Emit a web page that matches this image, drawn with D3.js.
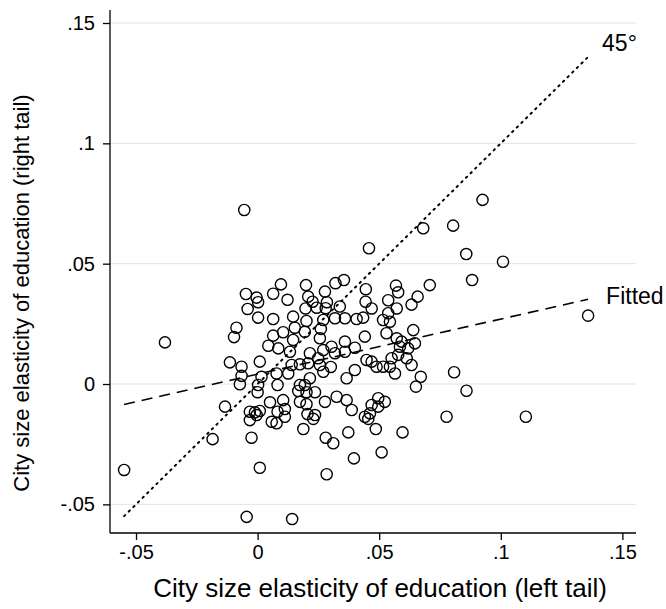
<!DOCTYPE html>
<html>
<head>
<meta charset="utf-8">
<script src="https://cdn.jsdelivr.net/npm/d3@7"></script>
<style>
  html, body { margin: 0; padding: 0; background: #fff; }
  svg { display: block; font-family: "Liberation Sans", Arial, Helvetica, sans-serif; }
</style>
</head>
<body>
<svg id="chart" width="666" height="609"></svg>
<script>
// City-level elasticities: left tail (x) vs right tail (y)
const leftTail = [
  -0.0055, 0.0458, 0.0681, 0.0925, 0.0804, 0.0858, 0.1009, 0.0708, 0.0882, -0.0048,
  -0.0004, 0.0002, 0.0096, 0.0064, 0.0123, 0.0199, 0.0208, 0.0226, 0.0277, 0.0285,
  0.0320, 0.0355, 0.0445, 0.0569, 0.0578, 0.0444, 0.0537, 0.0658, 0.0633, 0.0338,
  0.0469, 0.0572, -0.0041, 0.0197, 0.0002, 0.0064, -0.0087, -0.0097, 0.0146, 0.0243,
  0.0280, 0.0201, 0.0270, 0.0153, 0.0194, 0.0260, 0.0105, 0.0064, 0.0146, 0.0256,
  0.0044, 0.0085, 0.0133, 0.0215, 0.0270, 0.0304, 0.0249, 0.0208, 0.0174, 0.0140,
  0.0009, -0.0066, -0.0066, -0.0073, 0.0016, 0.0002, 0.0000, 0.0078, 0.0082, 0.0126,
  0.0174, 0.0194, 0.0201, 0.0236, 0.0167, 0.0215, 0.0270, 0.0301, 0.0256, 0.0277,
  0.0174, 0.0201, 0.0105, 0.0051, 0.0112, -0.0032, -0.0011, 0.0009, 0.0082, 0.0205,
  0.0236, 0.0318, 0.0359, 0.0407, 0.0434, 0.0516, 0.0537, 0.0544, 0.0530, 0.0441,
  0.0640, 0.0359, 0.0400, 0.0318, 0.0359, 0.0572, 0.0592, 0.0585, 0.0619, 0.0647,
  0.0578, 0.0551, 0.0613, 0.0448, 0.0469, 0.0489, 0.0516, 0.0544, 0.0565, 0.0633,
  0.0671, 0.0651, 0.0400, 0.0366, 0.0325, 0.0366, 0.0387, 0.0469, 0.0496, 0.0523,
  0.0496, 0.0462, 0.0441, 0.1359, 0.0808, 0.0859, 0.0777, 0.1103, -0.0381, -0.0114,
  -0.0134, -0.0185, -0.0549, -0.0032, -0.0004, 0.0058, 0.0078, 0.0112, -0.0025, 0.0188,
  0.0229, 0.0280, 0.0311, 0.0009, 0.0284, -0.0045, 0.0142, 0.0373, 0.0455, 0.0486,
  0.0596, 0.0396, 0.0510
];
const rightTail = [
  0.0723, 0.0564, 0.0647, 0.0765, 0.0658, 0.0540, 0.0508, 0.0411, 0.0432, 0.0374,
  0.0359, 0.0340, 0.0414, 0.0375, 0.0350, 0.0411, 0.0363, 0.0342, 0.0384, 0.0340,
  0.0419, 0.0432, 0.0394, 0.0409, 0.0381, 0.0342, 0.0348, 0.0363, 0.0330, 0.0322,
  0.0314, 0.0314, 0.0312, 0.0314, 0.0276, 0.0270, 0.0234, 0.0195, 0.0280, 0.0317,
  0.0315, 0.0262, 0.0266, 0.0234, 0.0217, 0.0229, 0.0215, 0.0201, 0.0183, 0.0190,
  0.0159, 0.0148, 0.0134, 0.0128, 0.0141, 0.0155, 0.0107, 0.0086, 0.0082, 0.0079,
  0.0093, 0.0072, 0.0034, -0.0001, 0.0030, -0.0004, -0.0034, 0.0044, -0.0004, 0.0044,
  -0.0004, -0.0004, -0.0034, -0.0034, -0.0029, 0.0024, 0.0051, 0.0071, 0.0079, -0.0074,
  -0.0074, -0.0084, -0.0067, -0.0076, -0.0104, -0.0115, -0.0118, -0.0112, -0.0115, -0.0125,
  -0.0129, 0.0273, 0.0273, 0.0270, 0.0276, 0.0266, 0.0294, 0.0259, 0.0211, 0.0197,
  0.0224, 0.0176, 0.0151, 0.0128, 0.0134, 0.0190, 0.0176, 0.0155, 0.0148, 0.0169,
  0.0121, 0.0107, 0.0107, 0.0100, 0.0093, 0.0072, 0.0072, 0.0072, 0.0044, 0.0079,
  0.0030, -0.0011, 0.0058, 0.0024, -0.0053, -0.0067, -0.0108, -0.0087, -0.0059, -0.0074,
  -0.0094, -0.0122, -0.0136, 0.0284, 0.0049, -0.0028, -0.0136, -0.0136, 0.0173, 0.0090,
  -0.0094, -0.0229, -0.0357, -0.0150, -0.0129, -0.0157, -0.0163, -0.0136, -0.0223, -0.0187,
  -0.0145, -0.0223, -0.0246, -0.0348, -0.0375, -0.0552, -0.0561, -0.0201, -0.0145, -0.0187,
  -0.0201, -0.0309, -0.0284
];

// Axis ticks
const xTicks = [-0.05, 0, 0.05, 0.1, 0.15];
const yTicks = [-0.05, 0, 0.05, 0.1, 0.15];
const tickLabels = ["-.05", "0", ".05", ".1", ".15"];

// Fitted line (intercept, slope)
const fitCoef = [0.0041, 0.229];

const xTitle = "City size elasticity of education (left tail)";
const yTitle = "City size elasticity of education (right tail)";

const svg = d3.select("#chart");
const plot = { left: 110, right: 636, top: 10, bottom: 533 };

const x = d3.scaleLinear().domain([-0.0607, 0.1556]).range([plot.left, plot.right]);
const y = d3.scaleLinear().domain([-0.0619, 0.1554]).range([plot.bottom, plot.top]);

const fmt = v => tickLabels[xTicks.indexOf(v)];

// Horizontal gridlines
svg.append("g").selectAll("line").data(yTicks).join("line")
  .attr("x1", plot.left).attr("x2", plot.right)
  .attr("y1", d => y(d)).attr("y2", d => y(d))
  .attr("stroke", "#e3e3e3").attr("stroke-width", 1);

// Axes
const yAxis = svg.append("g").attr("transform", `translate(${plot.left},0)`)
  .call(d3.axisLeft(y).tickValues(yTicks).tickFormat(v => tickLabels[yTicks.indexOf(v)]).tickSize(7).tickPadding(8));
const xAxis = svg.append("g").attr("transform", `translate(0,${plot.bottom})`)
  .call(d3.axisBottom(x).tickValues(xTicks).tickFormat(fmt).tickSize(7).tickPadding(5));
[xAxis, yAxis].forEach(g => {
  g.select(".domain").attr("stroke", "#000").attr("stroke-width", 1.3);
  g.selectAll(".tick line").attr("stroke", "#000").attr("stroke-width", 1.3);
  g.selectAll(".tick text").attr("fill", "#000").attr("font-size", 20)
    .attr("font-family", "Liberation Sans, Arial, sans-serif");
});
xAxis.select(".domain").attr("d", `M${plot.left},0H${plot.right}`);
yAxis.select(".domain").attr("d", `M0,${plot.top}V${plot.bottom}`);

const pts = leftTail.map((v, i) => ({ x: v, y: rightTail[i] }));
const [xMin, xMax] = d3.extent(leftTail);

// 45-degree reference line
svg.append("line")
  .attr("x1", x(xMin)).attr("y1", y(xMin))
  .attr("x2", x(xMax)).attr("y2", y(xMax))
  .attr("stroke", "#000").attr("stroke-width", 2)
  .attr("stroke-dasharray", "1.5,5").attr("stroke-linecap", "round");

// Fitted regression line
svg.append("line")
  .attr("x1", x(xMin)).attr("y1", y(fitCoef[0] + fitCoef[1] * xMin))
  .attr("x2", x(xMax)).attr("y2", y(fitCoef[0] + fitCoef[1] * xMax))
  .attr("stroke", "#000").attr("stroke-width", 1.6)
  .attr("stroke-dasharray", "11,7");

// Scatter markers
svg.append("g").selectAll("circle").data(pts).join("circle")
  .attr("cx", d => x(d.x)).attr("cy", d => y(d.y)).attr("r", 5.6)
  .attr("fill", "none").attr("stroke", "#000").attr("stroke-width", 1.4);

// Line labels
svg.append("text").attr("x", x(xMax) + 14).attr("y", y(xMax) - 12)
  .attr("font-size", 23).attr("dominant-baseline", "middle").text("45°");
svg.append("text").attr("x", x(xMax) + 18).attr("y", y(fitCoef[0] + fitCoef[1] * xMax) - 1)
  .attr("font-size", 23).attr("dominant-baseline", "middle").text("Fitted");

// Axis titles
svg.append("text").attr("x", 380).attr("y", 590)
  .attr("text-anchor", "middle").attr("dominant-baseline", "middle")
  .attr("font-size", 26).text(xTitle);
svg.append("text").attr("transform", `translate(23,293) rotate(-90)`)
  .attr("text-anchor", "middle").attr("dominant-baseline", "middle")
  .attr("font-size", 22).text(yTitle);
</script>
</body>
</html>
